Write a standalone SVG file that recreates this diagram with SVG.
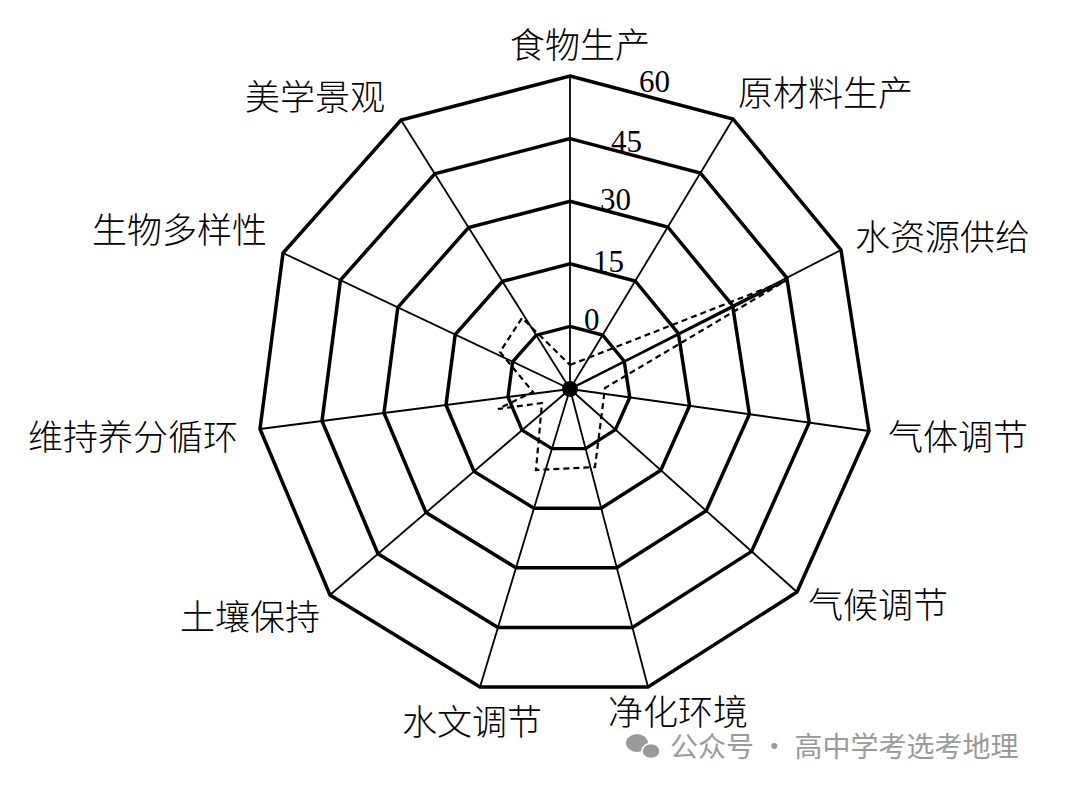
<svg xmlns="http://www.w3.org/2000/svg" width="1080" height="789" viewBox="0 0 1080 789">
<style>
.ring{fill:none;stroke:#000;stroke-width:3.5;stroke-linejoin:miter}
.axis{stroke:#000;stroke-width:1.8}
.lbl{font-family:"Noto Sans CJK SC","Noto Sans",sans-serif;font-size:35px;font-weight:300;fill:#000}
.num{font-family:"Liberation Serif",serif;font-size:31px;fill:#000}
.dash{fill:none;stroke:#000;stroke-width:2.2;stroke-dasharray:6,4}
</style>
<rect width="1080" height="789" fill="#fff"/>
<defs>
<polygon id="outer" points="0,-313 163,-270 271,-139 299,42 227,203 78,298 -90,298 -240,206 -310,40 -287,-136 -169,-269"/>
</defs>
<g id="grid" transform="translate(570,389)">
<use href="#outer" class="ring"/>
<use href="#outer" class="ring" transform="scale(0.8)" style="stroke-width:4.4"/>
<use href="#outer" class="ring" transform="scale(0.6)" style="stroke-width:5.8"/>
<use href="#outer" class="ring" transform="scale(0.4)" style="stroke-width:8.7"/>
<use href="#outer" class="ring" transform="scale(0.2)" style="stroke-width:17"/>
</g>
<g id="connectors">
<g class="axis">
<line x1="570" y1="389" x2="570" y2="76"/>
<line x1="570" y1="389" x2="733" y2="119"/>
<line x1="570" y1="389" x2="841" y2="250"/>
<line x1="570" y1="389" x2="869" y2="431"/>
<line x1="570" y1="389" x2="797" y2="592"/>
<line x1="570" y1="389" x2="648" y2="687"/>
<line x1="570" y1="389" x2="480" y2="687"/>
<line x1="570" y1="389" x2="330" y2="595"/>
<line x1="570" y1="389" x2="260" y2="429"/>
<line x1="570" y1="389" x2="283" y2="253"/>
<line x1="570" y1="389" x2="401" y2="120"/>
<line x1="570" y1="389" x2="787" y2="280" stroke-width="2.2"/>
</g>
<polygon class="dash" points="570,365 787,280 605,388 595,467 536,470 542,403 498,409 533,392 500,352 522,318"/>
<circle cx="570" cy="389" r="8" fill="#000"/>
</g>
<g id="labels">
<text class="lbl" x="580" y="58" text-anchor="middle">食物生产</text>
<text class="lbl" x="738" y="106">原材料生产</text>
<text class="lbl" x="245" y="110">美学景观</text>
<text class="lbl" x="855" y="250">水资源供给</text>
<text class="lbl" x="92" y="243">生物多样性</text>
<text class="lbl" x="888" y="450">气体调节</text>
<text class="lbl" x="28" y="450">维持养分循环</text>
<text class="lbl" x="808" y="618">气候调节</text>
<text class="lbl" x="180" y="630">土壤保持</text>
<text class="lbl" x="402" y="735">水文调节</text>
<text class="lbl" x="608" y="725">净化环境</text>
</g>
<g id="numbers">
<text class="num" x="639" y="92">60</text>
<text class="num" x="611" y="152">45</text>
<text class="num" x="600" y="210">30</text>
<text class="num" x="593" y="272">15</text>
<text class="num" x="584" y="330">0</text>
</g>
<g id="watermark" fill="#9a9a9a">
<ellipse cx="637" cy="743" rx="11" ry="9"/>
<ellipse cx="651" cy="751" rx="9" ry="7.5" stroke="#fff" stroke-width="1.5"/>
<text x="670" y="757" style="font-family:'Noto Sans CJK SC',sans-serif;font-size:28px">公众号 · 高中学考选考地理</text>
</g>
</svg>
